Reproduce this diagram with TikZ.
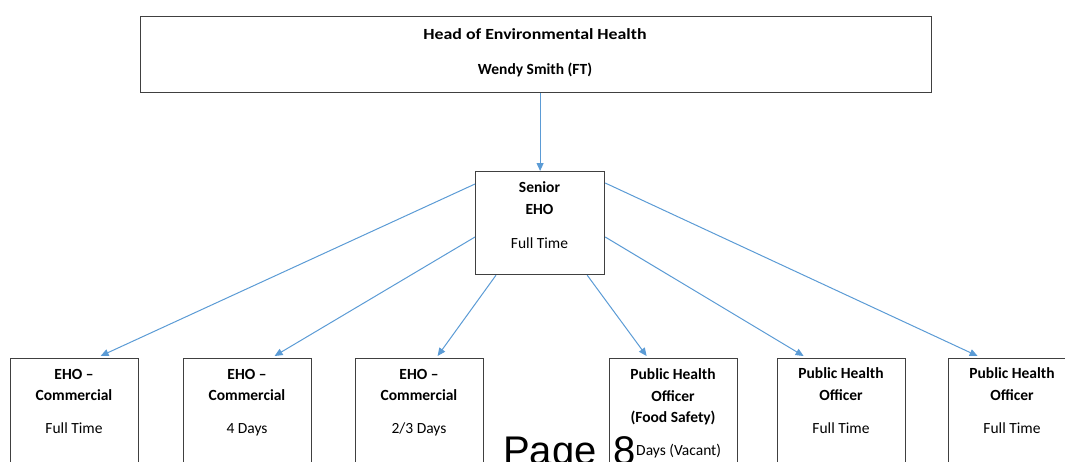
\documentclass[tikz,border=0pt]{standalone}
\usepackage{fontspec}
\setmainfont{Carlito}
\newfontfamily\pagefont{Liberation Sans}
\usetikzlibrary{arrows.meta}
\definecolor{lineblue}{HTML}{5B9BD5}
\definecolor{boxgray}{HTML}{404040}
\tikzset{
  orgbox/.style={draw=boxgray, line width=1.2pt, rectangle, inner sep=0pt, anchor=north west},
  lbl/.style={anchor=base, inner sep=0pt, font=\fontsize{15.5}{18}\selectfont},
  blbl/.style={lbl, font=\fontsize{15.5}{18}\selectfont\bfseries},
  conn/.style={draw=lineblue, line width=1pt, -{Triangle[length=8pt,width=7pt]}}
}
\begin{document}
\begin{tikzpicture}[x=1pt,y=-1pt]
\useasboundingbox (0,0) rectangle (1065,461);
\clip (0,0) rectangle (1065,461);
% boxes
\node[orgbox, minimum width=791pt, minimum height=76pt] (top) at (140,16) {};
\node[orgbox, minimum width=129pt, minimum height=103pt] (senior) at (475,171) {};
\node[orgbox, minimum width=128pt, minimum height=130pt] (b1) at (10,358) {};
\node[orgbox, minimum width=128pt, minimum height=130pt] (b2) at (183,358) {};
\node[orgbox, minimum width=128pt, minimum height=130pt] (b3) at (355,358) {};
\node[orgbox, minimum width=128pt, minimum height=130pt] (b4) at (609,358) {};
\node[orgbox, minimum width=128pt, minimum height=130pt] (b5) at (777,358) {};
\node[orgbox, minimum width=128pt, minimum height=130pt] (b6) at (948,358) {};
% texts
\node[blbl] (t1) at (535,39) {\scalebox{1.15}[1]{Head of Environmental Health}};
\node[blbl] (t2) at (535,74) {Wendy Smith (FT)};
\node[blbl] (s1) at (539.5,192.5) {Senior};
\node[blbl] (s2) at (539.5,214.5) {EHO};
\node[lbl] (s3) at (539.5,248) {Full Time};
\node[blbl] (b1a) at (74,379.5) {EHO –};
\node[blbl] (b1b) at (74,400.5) {Commercial};
\node[lbl] (b1c) at (74,433.5) {Full Time};
\node[blbl] (b2a) at (247,379.5) {EHO –};
\node[blbl] (b2b) at (247,400.5) {Commercial};
\node[lbl] (b2c) at (247,433.5) {4 Days};
\node[blbl] (b3a) at (419,379.5) {EHO –};
\node[blbl] (b3b) at (419,400.5) {Commercial};
\node[lbl] (b3c) at (419,433.5) {2/3 Days};
\node[blbl] (b4a) at (673,379.5) {Public Health};
\node[blbl] (b4b) at (673,401) {Officer};
\node[blbl] (b4c) at (673,422) {(Food Safety)};
\node[lbl] (b4d) at (673,455) {\phantom{3} Days (Vacant)};
\node[blbl] (b5a) at (841,378.5) {Public Health};
\node[blbl] (b5b) at (841,400) {Officer};
\node[lbl] (b5c) at (841,433.5) {Full Time};
\node[blbl] (b6a) at (1012,378.5) {Public Health};
\node[blbl] (b6b) at (1012,400) {Officer};
\node[lbl] (b6c) at (1012,433.5) {Full Time};
% connectors
\draw[conn] (senior.north |- top.south) -- (senior.north);
\draw[conn] ([yshift=-13pt]senior.north west) -- ([xshift=26pt,yshift=2pt]b1.north);
\draw[conn] ([yshift=-66pt]senior.north west) -- ([xshift=27pt,yshift=2pt]b2.north);
\draw[conn] ([xshift=21pt]senior.south west) -- ([xshift=18pt,yshift=2pt]b3.north);
\draw[conn] ([xshift=-18pt]senior.south east) -- ([xshift=-27pt,yshift=2pt]b4.north);
\draw[conn] ([yshift=-66pt]senior.north east) -- ([xshift=-38pt,yshift=2pt]b5.north);
\draw[conn] ([yshift=-12pt]senior.north east) -- ([xshift=-35pt,yshift=2pt]b6.north);
% page label
\node[anchor=base west, inner sep=0pt, font=\pagefont\fontsize{40}{44}\selectfont] (page) at (503,464) {Page\hspace{6pt} 8};
\end{tikzpicture}
\end{document}
